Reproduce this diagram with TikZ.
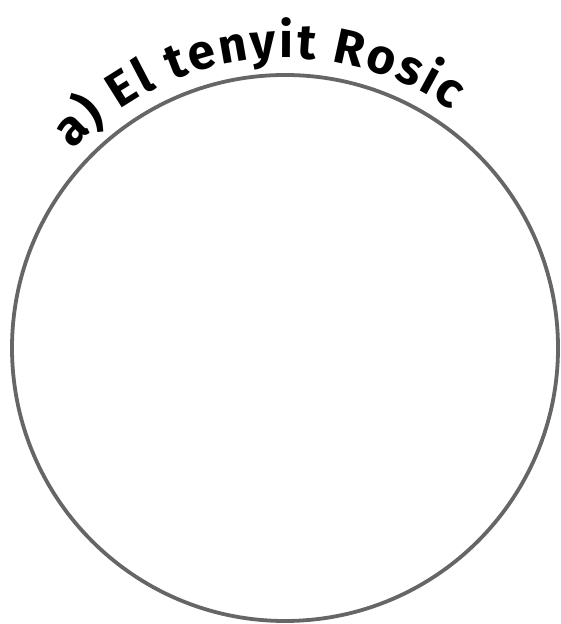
\documentclass[tikz,border=0pt]{standalone}
\usepackage{fontspec}
\setmainfont{Fira Sans}
\usetikzlibrary{decorations.text}
\tikzset{
  rim/.style={line width=2.7pt, draw=black!60},
  arclabel/.style={decorate, decoration={text along path, text align={fit to path},
    text={|\fontsize{35}{40}\bfseries|#1}}}
}
\begin{document}
\begin{tikzpicture}
\useasboundingbox (0,0) rectangle (14,15.6);
\coordinate (ctr) at (7.125,6.9);
% dish outline
\draw[rim] (ctr) circle[radius=6.825];
% title bent round the top
\path[arclabel={a) El tenyit Rosic}] (ctr) ++(137:7.25)
  arc[start angle=137, end angle=55, radius=7.25];
\end{tikzpicture}
\end{document}
